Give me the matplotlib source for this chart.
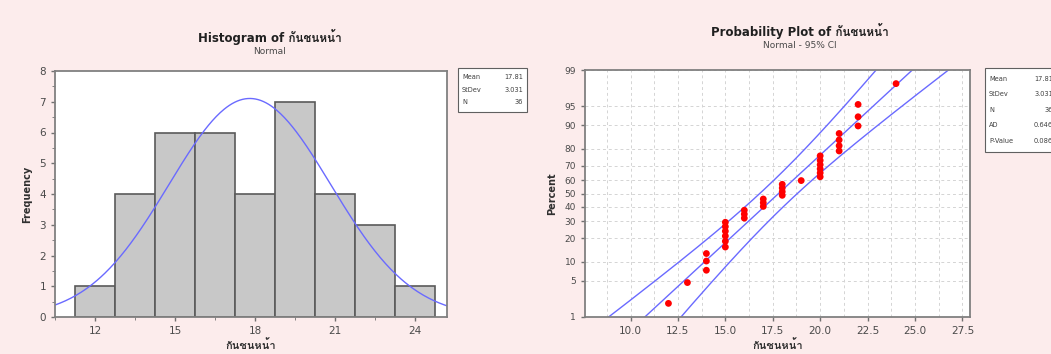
import matplotlib
matplotlib.use("Agg")
import matplotlib.pyplot as plt
from matplotlib import font_manager
from matplotlib.ft2font import FT2Font
from statistics import NormalDist
import numpy as np

# ---------------- data ----------------
values = [12, 13, 14, 15, 16, 17, 18, 19, 20, 21, 22, 24]
counts = [1, 1, 3, 6, 3, 3, 4, 1, 6, 4, 3, 1]
bin_edges = [11.25, 12.75, 14.25, 15.75, 17.25, 18.75, 20.25, 21.75, 23.25, 24.75]
hist_xticks = [12, 15, 18, 21, 24]
hist_yticks = [0, 1, 2, 3, 4, 5, 6, 7, 8]
prob_xticks = [10.0, 12.5, 15.0, 17.5, 20.0, 22.5, 25.0, 27.5]
prob_yticks = [1, 5, 10, 20, 30, 40, 50, 60, 70, 80, 90, 95, 99]
var_name = "กันชนหน้า"
stats_hist = [("Mean", "17.81"), ("StDev", "3.031"), ("N", "36")]
stats_prob = [("Mean", "17.81"), ("StDev", "3.031"), ("N", "36"), ("AD", "0.646"), ("P-Value", "0.086")]

# ---------------- fonts ----------------
thai_font = None
for f in font_manager.fontManager.ttflist:
    try:
        ft = FT2Font(f.fname)
        cm = ft.get_charmap()
        if 0x0E01 in cm and 0x0E19 in cm:
            thai_font = f.name
            break
    except Exception:
        pass
families = ["DejaVu Sans"] + ([thai_font] if thai_font else [])
plt.rcParams["font.family"] = families

data = np.repeat(values, counts).astype(float)
n = len(data)
mu = data.mean()
sd = data.std(ddof=1)
nd = NormalDist()

bg = "#fcecec"
grey_txt = "#4a4a4a"
blue = "#6a6aff"

fig = plt.figure(figsize=(10.51, 3.54), dpi=100, facecolor=bg)

# ---------------- histogram ----------------
ax1 = fig.add_axes([55/1051, 37/354, 392/1051, 246/354])
ax1.hist(data, bins=bin_edges, color="#c8c8c8", edgecolor="#5a5a5a", linewidth=1.2)
xs = np.linspace(10.5, 25.2, 300)
bw = bin_edges[1] - bin_edges[0]
ys = [n * bw * NormalDist(mu, sd).pdf(x) for x in xs]
ax1.plot(xs, ys, color=blue, lw=1)
ax1.set_xlim(10.5, 25.2)
ax1.set_ylim(0, 8)
ax1.set_xticks(hist_xticks)
ax1.set_yticks(hist_yticks)
ax1.set_xticks(np.arange(10.5, 25.3, 1.5), minor=True)
ax1.set_yticks(np.arange(0, 8.01, 0.5), minor=True)
ax1.tick_params(labelsize=7.5, colors="#707070", labelcolor=grey_txt, length=3, width=1)
ax1.tick_params(which="minor", length=2, colors="#707070")
for s in ax1.spines.values():
    s.set_color("#808080")
    s.set_linewidth(1.3)
ax1.set_ylabel("Frequency", fontsize=7, fontweight="bold", color="#303030", labelpad=5)
ax1.set_xlabel(var_name, fontsize=8, fontweight="bold", color="#303030", labelpad=2)
fig.text(270/1051, 1 - 37/354, "Histogram of " + var_name, ha="center", va="center",
         fontsize=8.5, fontweight="bold", color="#202020")
fig.text(270/1051, 1 - 51/354, "Normal", ha="center", va="center", fontsize=6.5, color=grey_txt)

def stat_box(x0, y0, w, rows, row_h):
    h = row_h * len(rows) + 6
    fig.patches.append(plt.Rectangle((x0/1051, 1 - (y0 + h)/354), w/1051, h/354,
                                     transform=fig.transFigure, facecolor="white",
                                     edgecolor="#606060", lw=0.8))
    for i, (k, v) in enumerate(rows):
        yy = 1 - (y0 + 3 + row_h*(i + 0.5))/354
        fig.text((x0 + 4)/1051, yy, k, fontsize=4.8, va="center", ha="left", color="#404040")
        fig.text((x0 + w - 4)/1051, yy, v, fontsize=4.8, va="center", ha="right", color="#404040")

stat_box(458, 68, 69, stats_hist, 12.5)

# ---------------- probability plot ----------------
ax2 = fig.add_axes([585/1051, 37/354, 385/1051, 247/354])
ranks = np.arange(1, n + 1)
pp = (ranks - 0.3) / (n + 0.4)
zs = np.array([nd.inv_cdf(p) for p in pp])
ax2.scatter(np.sort(data), zs, s=24, color="#ff0000", zorder=5, edgecolors="none")
zl = np.linspace(nd.inv_cdf(0.005), nd.inv_cdf(0.995), 200)
fit = mu + zl * sd
se = sd * np.sqrt(1.0/n + zl**2/(2.0*n))
ax2.plot(fit, zl, color=blue, lw=1)
ax2.plot(fit - 1.96*se, zl, color=blue, lw=1)
ax2.plot(fit + 1.96*se, zl, color=blue, lw=1)
ax2.set_xlim(7.6, 27.9)
ax2.set_ylim(nd.inv_cdf(0.01), nd.inv_cdf(0.99))
ax2.set_xticks(prob_xticks)
ax2.set_xticklabels(["%.1f" % t for t in prob_xticks])
ax2.set_xticks(np.arange(8.75, 27.9, 2.5), minor=True)
ax2.set_yticks([nd.inv_cdf(p/100) for p in prob_yticks])
ax2.set_yticklabels([str(p) for p in prob_yticks])
ax2.grid(True, which="both", axis="x", color="#d4d4d4", ls=(0, (3, 3)), lw=0.7)
ax2.grid(True, which="major", axis="y", color="#d4d4d4", ls=(0, (3, 3)), lw=0.7)
ax2.tick_params(labelsize=7.5, colors="#707070", labelcolor=grey_txt, length=3, width=1)
ax2.tick_params(which="minor", length=0)
ax2.tick_params(axis="y", labelsize=6.5)
for s in ax2.spines.values():
    s.set_color("#808080")
    s.set_linewidth(1.3)
ax2.set_ylabel("Percent", fontsize=7, fontweight="bold", color="#303030", labelpad=5)
ax2.set_xlabel(var_name, fontsize=8, fontweight="bold", color="#303030", labelpad=2)
fig.text(800/1051, 1 - 31/354, "Probability Plot of " + var_name, ha="center", va="center",
         fontsize=8.5, fontweight="bold", color="#202020")
fig.text(800/1051, 1 - 45/354, "Normal - 95% CI", ha="center", va="center", fontsize=6.5, color=grey_txt)

stat_box(985, 68, 72, stats_prob, 15.5)

fig.savefig("out.png", dpi=100, facecolor=bg)
